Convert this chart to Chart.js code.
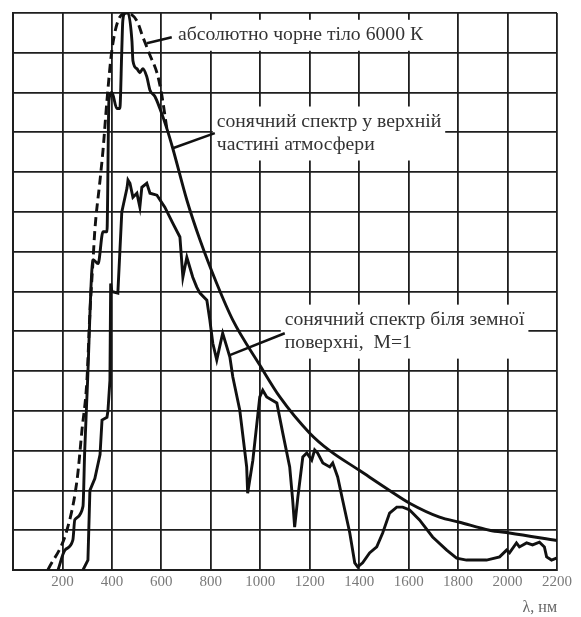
<!DOCTYPE html>
<html>
<head>
<meta charset="utf-8">
<script src="https://cdn.jsdelivr.net/npm/chart.js@4.4.1/dist/chart.umd.min.js"></script>
<style>
html,body{margin:0;padding:0;background:#fff;}
#wrap{width:581px;height:617px;}
</style>
</head>
<body>
<div id="wrap"><canvas id="c" width="581" height="617"></canvas></div>
<script>
// ---- data (wavelength in nm, relative intensity) ----
const blackbodyNm  = [141,218,259,279,299,311,323,331,352,364,380,400,432,461,501,525,554,582,600,622];
const blackbodyVal = [0,1.0,2.26,3.52,4.77,6.46,7.71,8.54,9.8,10.55,11.8,13.07,13.9,14.0,13.8,13.4,12.94,12.5,12.0,11.1];

const topAtmNm  = [182,210,242,250,283,290,300,324,344,364,380,388,400,420,432,440,444,453,465,481,485,501,513,525,541,554,574,594,622,646,703,756,824,889,998,1079,1200,1281,1402,1523,1604,1725,1806,1927,2008,2200];
const topAtmVal = [0,0.5,0.75,1.26,1.6,3.0,4.5,7.8,7.7,8.5,8.5,11.8,12.0,11.6,11.6,13.07,13.8,14.0,14.0,13.3,12.8,12.6,12.5,12.6,12.4,12.06,11.9,11.6,11.1,10.6,9.3,8.3,7.2,6.28,5.15,4.35,3.44,3.0,2.5,2.0,1.68,1.33,1.2,1.0,0.93,0.74];

const surfaceNm  = [283,303,311,331,352,360,380,384,392,395,400,424,440,461,465,473,485,501,513,521,541,554,582,614,646,675,687,703,727,743,756,784,796,808,824,848,865,877,889,917,945,949,970,998,1010,1026,1067,1091,1119,1131,1139,1152,1172,1188,1208,1220,1232,1253,1281,1293,1313,1333,1362,1382,1394,1414,1442,1471,1495,1523,1552,1576,1604,1644,1697,1754,1794,1834,1915,1968,1996,2008,2036,2048,2077,2101,2129,2149,2158,2178,2198];
const surfaceVal = [0,0.25,2.0,2.3,2.9,3.77,3.84,4.0,4.77,7.2,7.0,6.96,9.0,9.6,9.8,9.72,9.37,9.47,9.12,9.62,9.72,9.47,9.42,9.12,8.72,8.37,7.36,7.86,7.36,7.11,6.96,6.78,6.28,5.70,5.28,5.95,5.6,5.35,4.85,4.02,2.59,1.93,2.76,4.35,4.52,4.35,4.2,3.44,2.59,1.76,1.08,1.83,2.84,2.94,2.76,3.02,2.94,2.69,2.59,2.69,2.34,1.76,0.93,0.18,0.08,0.18,0.43,0.58,0.93,1.43,1.58,1.58,1.51,1.26,0.83,0.5,0.3,0.25,0.25,0.33,0.5,0.43,0.68,0.58,0.68,0.63,0.7,0.58,0.33,0.25,0.3];

const xTickLabels = ['200','400','600','800','1000','1200','1400','1600','1800','2000','2200'];
const xAxisTitle = 'λ, нм';

const labelTexts = [
  ['абсолютно чорне тіло 6000 К'],
  ['сонячний спектр у верхній', 'частині атмосфери'],
  ['сонячний спектр біля земної', 'поверхні,  M=1']
];
// anchor (data units): text start, pointer from, pointer to
const labelAnchors = [
  {text:[667,13.44], from:[541,13.24], to:[642,13.39]},
  {text:[824,11.26], from:[646,10.6],  to:[816,10.98]},
  {text:[1099,6.28], from:[877,5.40],  to:[1099,5.95]}
];

const zip = (xs, ys) => xs.map((x, i) => ({x, y: ys[i]}));
const LABEL_FONT = '19.7px "Liberation Serif", "DejaVu Serif", serif';
const LH = 23;

const labelPlugin = {
  id: 'labels',
  beforeDatasetsDraw(chart) {
    const {ctx, scales:{x, y}} = chart;
    ctx.save();
    labelTexts.forEach((lines, i) => {
      const a = labelAnchors[i];
      const tx = x.getPixelForValue(a.text[0]);
      const ty = y.getPixelForValue(a.text[1]);
      ctx.font = LABEL_FONT;
      const w = Math.max(...lines.map(l => ctx.measureText(l).width));
      ctx.fillStyle = '#ffffff';
      ctx.fillRect(tx - 4, ty - LH/2 - 4, w + 8, LH * lines.length + 8);
    });
    ctx.restore();
  },
  afterDatasetsDraw(chart) {
    const {ctx, scales:{x, y}} = chart;
    ctx.save();
    labelTexts.forEach((lines, i) => {
      const a = labelAnchors[i];
      const tx = x.getPixelForValue(a.text[0]);
      const ty = y.getPixelForValue(a.text[1]);
      ctx.font = LABEL_FONT;
      ctx.fillStyle = '#333';
      ctx.textBaseline = 'middle';
      ctx.textAlign = 'left';
      lines.forEach((l, k) => ctx.fillText(l, tx, ty + k * LH));
      ctx.strokeStyle = '#111';
      ctx.lineWidth = 2.5;
      ctx.beginPath();
      ctx.moveTo(x.getPixelForValue(a.from[0]), y.getPixelForValue(a.from[1]));
      ctx.lineTo(x.getPixelForValue(a.to[0]), y.getPixelForValue(a.to[1]));
      ctx.stroke();
    });
    ctx.restore();
  }
};

const lineStyle = {pointRadius: 0, borderColor: '#111', borderWidth: 2.9, fill: false, cubicInterpolationMode: 'monotone'};

new Chart(document.getElementById('c'), {
  type: 'line',
  data: {
    datasets: [
      Object.assign({label: 'абсолютно чорне тіло 6000 К', data: zip(blackbodyNm, blackbodyVal), borderDash: [9, 5]}, lineStyle),
      Object.assign({label: 'сонячний спектр у верхній частині атмосфери', data: zip(topAtmNm, topAtmVal)}, lineStyle),
      Object.assign({label: 'сонячний спектр біля земної поверхні, M=1', data: zip(surfaceNm, surfaceVal)}, lineStyle, {cubicInterpolationMode: 'default', tension: 0})
    ]
  },
  options: {
    responsive: false,
    animation: false,
    devicePixelRatio: 1,
    layout: {padding: {left: 13, top: 13, right: 24, bottom: 0}},
    plugins: {legend: {display: false}, tooltip: {enabled: false}},
    scales: {
      x: {
        type: 'linear', min: 0, max: 2200,
        afterFit: s => { s.height = 47; },
        ticks: {
          stepSize: 200, padding: 3, color: '#7a7a7a', maxRotation: 0, autoSkip: false,
          font: {family: '"Liberation Serif", serif', size: 15},
          callback: v => v === 0 ? '' : xTickLabels[v / 200 - 1]
        },
        grid: {color: '#1e1e1e', lineWidth: 1.8, drawTicks: false},
        border: {color: '#1e1e1e', width: 2},
        title: {display: true, text: xAxisTitle, align: 'end', color: '#666',
                font: {family: '"Liberation Serif", serif', size: 16}, padding: {top: 3, bottom: 0}}
      },
      y: {
        type: 'linear', min: 0, max: 14,
        afterFit: s => { s.width = 0; },
        ticks: {stepSize: 1, display: false},
        grid: {color: '#1e1e1e', lineWidth: 1.8, drawTicks: false},
        border: {color: '#1e1e1e', width: 2}
      }
    }
  },
  plugins: [labelPlugin]
});
</script>
</body>
</html>
